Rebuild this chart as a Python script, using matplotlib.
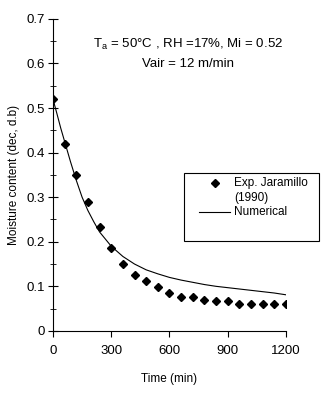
import matplotlib
matplotlib.use("Agg")
from matplotlib import pyplot as plt
from matplotlib.lines import Line2D
from matplotlib.patches import Rectangle

plt.rcParams["font.family"] = ["Liberation Sans", "DejaVu Sans"]

# experimental data, Jaramillo (1990)
exp_time = [0, 60, 120, 180, 240, 300, 360, 420, 480, 540, 600, 660, 720,
            780, 840, 900, 960, 1020, 1080, 1140, 1200]
exp_moisture = [0.52, 0.42, 0.35, 0.29, 0.232, 0.187, 0.149, 0.126, 0.113,
                0.099, 0.086, 0.077, 0.075, 0.07, 0.066, 0.066, 0.061, 0.061,
                0.061, 0.061, 0.061]

# numerical model
num_time = [0, 20, 40, 60, 90, 120, 150, 180, 210, 240, 300, 360, 420, 480,
            540, 600, 660, 720, 780, 840, 900, 960, 1020, 1080, 1140, 1200]
num_moisture = [0.52, 0.488, 0.455, 0.425, 0.38, 0.338, 0.3, 0.27, 0.245,
                0.222, 0.19, 0.167, 0.15, 0.137, 0.128, 0.12, 0.114, 0.109,
                0.104, 0.1, 0.097, 0.094, 0.091, 0.088, 0.085, 0.081]

fig = plt.figure(figsize=(3.31, 3.93), dpi=100)
ax = fig.add_axes([0.160, 0.158, 0.704, 0.794])

ax.plot(num_time, num_moisture, color="black", lw=0.8)
ax.plot(exp_time, exp_moisture, "D", color="black", ms=4.3, ls="none")

ax.set_xlim(0, 1200)
ax.set_ylim(0, 0.7)
ax.set_xticks([0, 300, 600, 900, 1200])
ax.set_yticks([0, 0.1, 0.2, 0.3, 0.4, 0.5, 0.6, 0.7])
ax.set_yticklabels(["0", "0.1", "0.2", "0.3", "0.4", "0.5", "0.6", "0.7"])
ax.set_yticks([0.05, 0.15, 0.25, 0.35, 0.45, 0.55, 0.65], minor=True)
ax.tick_params(axis="y", which="major", direction="inout", length=7, labelsize=9.5, pad=2)
ax.tick_params(axis="y", which="minor", direction="inout", length=5)
ax.tick_params(axis="x", which="major", direction="out", length=4, labelsize=9.5, pad=6)
for s in ["top", "right"]:
    ax.spines[s].set_visible(False)
ax.spines["left"].set_linewidth(0.8)
ax.spines["bottom"].set_linewidth(0.8)

ax.set_xlabel("Time (min)", fontsize=8.5, labelpad=12)
ax.set_ylabel("Moisture content (dec, d.b)", fontsize=8.5, labelpad=5)

fig.text(0.568, 0.888, r"T$_\mathregular{a}$ = 50°C , RH =17%, Mi = 0.52",
         ha="center", va="center", fontsize=9.5)
fig.text(0.568, 0.838, "Vair = 12 m/min", ha="center", va="center", fontsize=9.5)

# legend box drawn by hand (entries overlap in the original)
fig.patches.append(Rectangle((184 / 331, 1 - 241 / 393), 135 / 331, 68 / 393,
                             transform=fig.transFigure, fill=False,
                             edgecolor="black", lw=0.8))
fig.lines.append(Line2D([215 / 331], [1 - 183 / 393], marker="D", ms=4.3,
                        color="black", transform=fig.transFigure))
fig.lines.append(Line2D([199 / 331, 230 / 331], [1 - 212 / 393] * 2,
                        color="black", lw=0.8, transform=fig.transFigure))
fig.text(234 / 331, 1 - 183 / 393, "Exp. Jaramillo", va="center", fontsize=8.5)
fig.text(234 / 331, 1 - 198 / 393, "(1990)", va="center", fontsize=8.5)
fig.text(234 / 331, 1 - 212 / 393, "Numerical", va="center", fontsize=8.5)

plt.savefig("out.png", dpi=100)
